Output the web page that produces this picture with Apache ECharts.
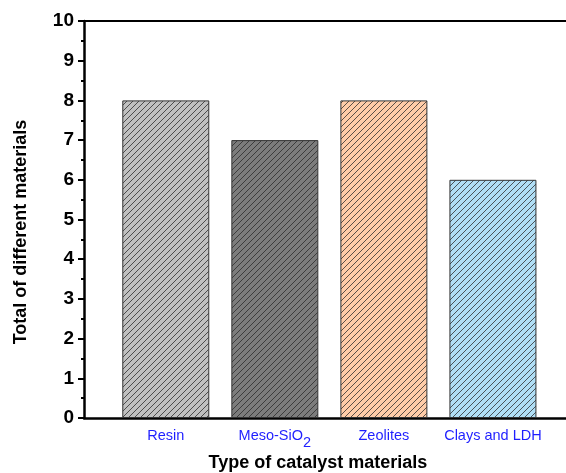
<!DOCTYPE html>
<html><head><meta charset="utf-8">
<script src="https://cdn.jsdelivr.net/npm/echarts@6/dist/echarts.min.js"></script>
<style>html,body{margin:0;padding:0;background:#fff}#c{width:566px;height:473px}</style>
</head><body><div id="c"></div>
<script>
var categories = ['Resin', 'Meso-SiO2', 'Zeolites', 'Clays and LDH'];
var values = [8, 7, 8, 6];
var fillColors = ['#c0c0c0', '#7c7c7c', '#ffcca8', '#b0def5'];
var yTicks = [0,1,2,3,4,5,6,7,8,9,10];

function hatch(bg) {
  var c = document.createElement('canvas');
  c.width = 6; c.height = 6;
  var g = c.getContext('2d');
  g.fillStyle = bg; g.fillRect(0,0,6,6);
  g.strokeStyle = 'rgba(40,40,40,0.85)';
  g.lineWidth = 0.9;
  g.beginPath();
  g.moveTo(0,6); g.lineTo(6,0);
  g.moveTo(-1,1); g.lineTo(1,-1);
  g.moveTo(5,7); g.lineTo(7,5);
  g.stroke();
  return {image: c, repeat: 'repeat'};
}

var chart = echarts.init(document.getElementById('c'));
var data = values.map(function(v, i){
  return {value: [i+1, v], itemStyle: {color: hatch(fillColors[i])}};
});
var lblColor = '#1f1fff';
chart.setOption({
  animation: false,
  grid: {left: 84, right: 0, top: 21, bottom: 55, containLabel: false},
  xAxis: [{
    type: 'value', min: 0.25, max: 4.67,
    axisLine: {show: true, lineStyle: {color: '#000', width: 2.5}},
    axisTick: {show: false},
    splitLine: {show: false},
    axisLabel: {
      customValues: [1,2,3,4],
      color: lblColor, fontSize: 14.5, fontFamily: 'Liberation Sans', margin: 10,
      formatter: function(v){
        var n = categories[Math.round(v)-1];
        if (n === 'Meso-SiO2') return '{m|Meso-SiO}{sub|2}';
        return '{m|' + n + '}';
      },
      rich: {
        m: {fontSize: 14.5, color: lblColor, fontFamily: 'Liberation Sans', verticalAlign: 'top'},
        sub: {fontSize: 14.5, color: lblColor, fontFamily: 'Liberation Sans', verticalAlign: 'top', padding: [7,0,0,0]}
      }
    }
  }, {
    type: 'value', min: 0.25, max: 4.67, position: 'top',
    axisLine: {show: true, lineStyle: {color: '#000', width: 2}},
    axisTick: {show: false}, axisLabel: {show: false}, splitLine: {show: false}
  }],
  yAxis: {
    type: 'value', min: 0, max: 10, interval: 1,
    axisLine: {show: true, lineStyle: {color: '#000', width: 2.5}},
    axisTick: {show: true, inside: false, length: 6, lineStyle: {color: '#000', width: 2}},
    minorTick: {show: true, splitNumber: 2, length: 3, lineStyle: {color: '#000', width: 2}},
    splitLine: {show: false},
    axisLabel: {color: '#000', fontSize: 19, fontWeight: 'bold', fontFamily: 'Liberation Sans', margin: 10,
      formatter: function(v){ return yTicks.indexOf(v) >= 0 ? String(v) : ''; }}
  },
  series: [{
    type: 'bar', xAxisIndex: 0, barWidth: 87,
    data: data,
    itemStyle: {borderColor: '#333', borderWidth: 1}
  }],
  graphic: [
    {type: 'text', x: 318, y: 463, style: {text: 'Type of catalyst materials', font: 'bold 18px "Liberation Sans"', fill: '#000', align: 'center', verticalAlign: 'middle'}},
    {type: 'text', x: 21, y: 232, rotation: Math.PI/2, style: {text: 'Total of different materials', font: 'bold 18px "Liberation Sans"', fill: '#000', align: 'center', verticalAlign: 'middle'}}
  ]
});
</script></body></html>
